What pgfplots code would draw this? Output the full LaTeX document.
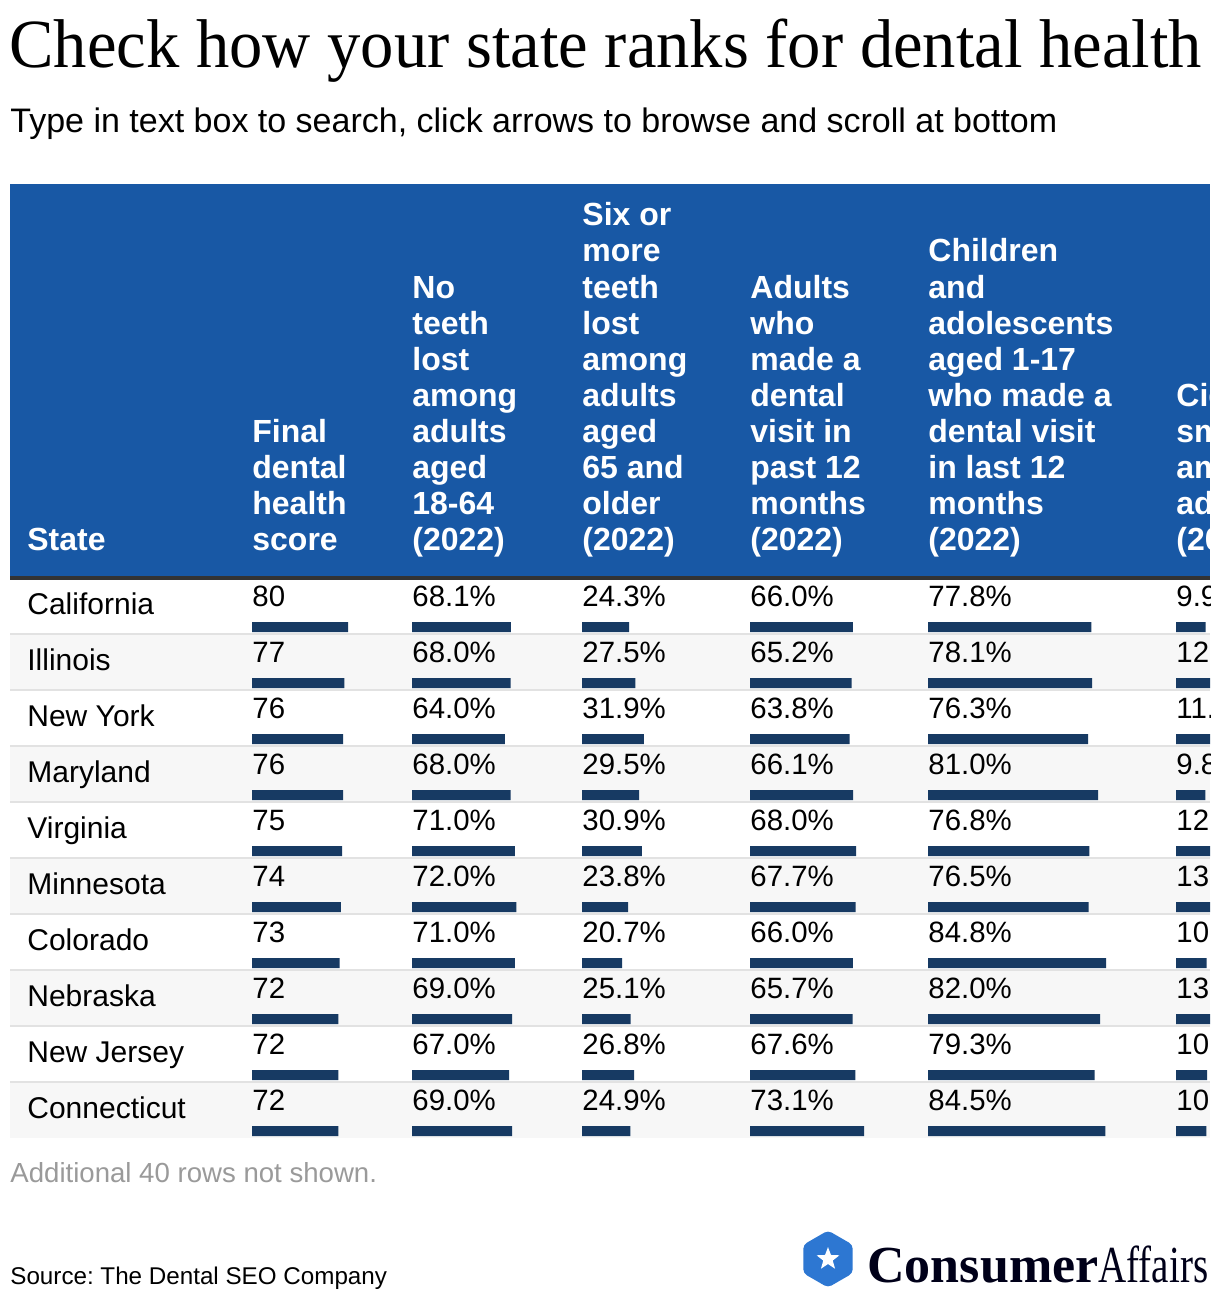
\documentclass[border=0pt]{standalone}
\usepackage{pgfplots}
\pgfplotsset{compat=1.18}
\usepackage{pgfplotstable}
\usepackage{fontspec}
\setmainfont{Liberation Sans}
\newfontfamily\titlefont[FakeStretch=0.965]{Liberation Serif}
\newfontfamily\logofont{Liberation Serif}
\newfontfamily\logoaff[FakeStretch=0.75]{Liberation Serif}
\usetikzlibrary{shapes.geometric}
\definecolor{hdrblue}{HTML}{1858A5}
\definecolor{hdrline}{HTML}{333333}
\definecolor{barnavy}{HTML}{173A63}
\definecolor{rowgray}{HTML}{F7F7F7}
\definecolor{sepgray}{HTML}{E2E2E2}
\definecolor{footgray}{HTML}{9A9A9A}
\definecolor{logoblue}{HTML}{2D77D2}
\frenchspacing

\pgfplotstableread[col sep=comma]{
state,score,noteeth,six,adults,children,cig
California,80,68.1,24.3,66.0,77.8,9.9
Illinois,77,68.0,27.5,65.2,78.1,12.3
New York,76,64.0,31.9,63.8,76.3,11.5
Maryland,76,68.0,29.5,66.1,81.0,9.8
Virginia,75,71.0,30.9,68.0,76.8,12.4
Minnesota,74,72.0,23.8,67.7,76.5,13.1
Colorado,73,71.0,20.7,66.0,84.8,10.2
Nebraska,72,69.0,25.1,65.7,82.0,13.2
New Jersey,72,67.0,26.8,67.6,79.3,10.4
Connecticut,72,69.0,24.9,73.1,84.5,10.1
}\data

\newcommand\numfont{\fontsize{14.7}{18}\selectfont}
\newcommand\hfont{\bfseries\fontsize{16}{18}\selectfont}

\pgfplotsset{
  colaxis/.style={scale only axis, hide axis, anchor=north west,
    xmin=0, ymin=0, ymax=10, y dir=reverse, height=280pt, clip=false,
    /pgf/number format/assume math mode=true},
  barplot/.style={xbar, bar width=5pt, bar shift=0pt, fill=barnavy, draw=none},
  txtplot/.style={draw=none, mark=none, point meta=explicit,
    every node near coord/.append style={anchor=base west, inner sep=0pt,
      yshift=10.5pt, font=\numfont, text=black}},
}

\newcommand\hdr[3]{%
  \foreach \t [count=\k] in {#3} {%
    \node[anchor=base west, inner sep=0pt, text=white, font=\hfont]
      at (#1pt, {-275pt+18pt*(#2-\k)}) {\t};}}

\begin{document}
\begin{tikzpicture}
\useasboundingbox (0,0) rectangle (610pt,-650pt);
\fill[white] (0,0) rectangle (610pt,-650pt);

% title and subtitle
\node[anchor=base west, inner sep=0pt] at (4.5pt,-34pt)
  {\titlefont\fontsize{34.5}{40}\selectfont Check how your state ranks for dental health};
\node[anchor=base west, inner sep=0pt] at (5pt,-66.5pt)
  {\fontsize{17}{20}\selectfont Type in text box to search, click arrows to browse and scroll at bottom};

\begin{scope}
\clip (0,0) rectangle (605pt,-650pt);
% header
\fill[hdrblue] (5pt,-92pt) rectangle (605pt,-288pt);
\fill[hdrline] (5pt,-288pt) rectangle (605pt,-290pt);
\hdr{13.5}{1}{State}
\hdr{126}{4}{Final,dental,health,score}
\hdr{206}{8}{No,teeth,lost,among,adults,aged,18-64,(2022)}
\hdr{291}{10}{Six or,more,teeth,lost,among,adults,aged,65 and,older,(2022)}
\hdr{375}{8}{Adults,who,made a,dental,visit in,past 12,months,(2022)}
\hdr{464}{9}{Children,and,adolescents,aged 1-17,who made a,dental visit,in last 12,months,(2022)}
\hdr{588}{5}{Cigarette,smoking,among,adults,(2022)}

% row backgrounds
\foreach \i in {1,3,5,7,9} {\fill[rowgray] (5pt,{-289pt-28pt*\i}) rectangle (605pt,{-317pt-28pt*\i});}
\foreach \i in {0,...,8} {\draw[sepgray, line width=1pt] (5pt,{-317pt-28pt*\i}) -- (605pt,{-317pt-28pt*\i});}

% state names
\begin{axis}[colaxis, at={(13.5pt,-299.5pt)}, xmax=100, width=100pt]
\addplot[draw=none, mark=none, point meta=explicit symbolic, nodes near coords,
  every node near coord/.append style={anchor=base west, inner sep=0pt, yshift=6.5pt,
    font=\fontsize{15}{18}\selectfont, text=black}]
  table[x expr=0, y expr=\coordindex+0.5, meta=state] {\data};
\end{axis}

% Final dental health score
\begin{axis}[colaxis, at={(126pt,-299.5pt)}, xmax=100, width=60pt]
\addplot[barplot] table[x=score, y expr=\coordindex+0.5] {\data};
\addplot[txtplot, nodes near coords={\pgfmathprintnumber[fixed,precision=0]{\pgfplotspointmeta}}]
  table[x expr=0, y expr=\coordindex+0.5, meta=score] {\data};
\end{axis}

% No teeth lost 18-64
\begin{axis}[colaxis, at={(206pt,-299.5pt)}, xmax=100, width=72.5pt]
\addplot[barplot] table[x=noteeth, y expr=\coordindex+0.5] {\data};
\addplot[txtplot, nodes near coords={\pgfmathprintnumber[fixed,fixed zerofill,precision=1]{\pgfplotspointmeta}\%}]
  table[x expr=0, y expr=\coordindex+0.5, meta=noteeth] {\data};
\end{axis}

% Six or more teeth lost 65+
\begin{axis}[colaxis, at={(291pt,-299.5pt)}, xmax=50, width=48.5pt]
\addplot[barplot] table[x=six, y expr=\coordindex+0.5] {\data};
\addplot[txtplot, nodes near coords={\pgfmathprintnumber[fixed,fixed zerofill,precision=1]{\pgfplotspointmeta}\%}]
  table[x expr=0, y expr=\coordindex+0.5, meta=six] {\data};
\end{axis}

% Adults dental visit
\begin{axis}[colaxis, at={(375pt,-299.5pt)}, xmax=100, width=78pt]
\addplot[barplot] table[x=adults, y expr=\coordindex+0.5] {\data};
\addplot[txtplot, nodes near coords={\pgfmathprintnumber[fixed,fixed zerofill,precision=1]{\pgfplotspointmeta}\%}]
  table[x expr=0, y expr=\coordindex+0.5, meta=adults] {\data};
\end{axis}

% Children dental visit
\begin{axis}[colaxis, at={(464pt,-299.5pt)}, xmax=100, width=105pt]
\addplot[barplot] table[x=children, y expr=\coordindex+0.5] {\data};
\addplot[txtplot, nodes near coords={\pgfmathprintnumber[fixed,fixed zerofill,precision=1]{\pgfplotspointmeta}\%}]
  table[x expr=0, y expr=\coordindex+0.5, meta=children] {\data};
\end{axis}

% Cigarette smoking
\begin{axis}[colaxis, at={(588pt,-299.5pt)}, xmax=50, width=75pt]
\addplot[barplot] table[x=cig, y expr=\coordindex+0.5] {\data};
\addplot[txtplot, nodes near coords={\pgfmathprintnumber[fixed,fixed zerofill,precision=1]{\pgfplotspointmeta}\%}]
  table[x expr=0, y expr=\coordindex+0.5, meta=cig] {\data};
\end{axis}
\end{scope}

% footer
\node[anchor=base west, inner sep=0pt, text=footgray] at (5pt,-591pt)
  {\fontsize{13.8}{16}\selectfont Additional 40 rows not shown.};
\node[anchor=base west, inner sep=0pt] at (5pt,-642pt)
  {\fontsize{12.1}{14}\selectfont Source: The Dental SEO Company};

% logo
\node[regular polygon, regular polygon sides=6, shape border rotate=30, minimum size=28.5pt,
  inner sep=0pt, fill=logoblue, rounded corners=2pt] at (414pt,-629.5pt) {};
\node[star, star points=5, star point ratio=2.4, minimum size=12pt, inner sep=0pt, fill=white]
  at (414pt,-629.5pt) {};
\node[anchor=base west, inner sep=0pt, text=black!90!blue] at (433.5pt,-641pt)
  {\logofont\bfseries\fontsize{26}{30}\selectfont Consumer\logoaff\mdseries Affairs};
\end{tikzpicture}
\end{document}
